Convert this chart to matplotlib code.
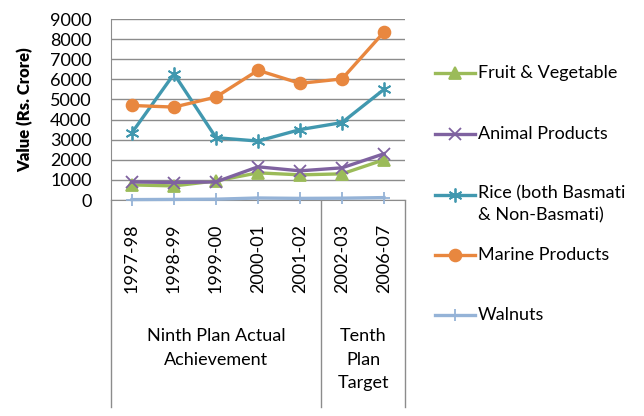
import matplotlib
matplotlib.use("Agg")
import matplotlib.pyplot as plt
from matplotlib.lines import Line2D
import matplotlib.transforms as mtransforms

plt.rcParams['font.family'] = ['Lato', 'DejaVu Sans']

categories = ["1997-98", "1998-99", "1999-00", "2000-01", "2001-02", "2002-03", "2006-07"]
groups = ["Ninth Plan Actual\nAchievement", "Tenth\nPlan\nTarget"]
group_sizes = [5, 2]

fruit = [750, 700, 950, 1350, 1250, 1300, 2000]
animal = [900, 870, 900, 1650, 1450, 1600, 2300]
rice = [3350, 6270, 3100, 2930, 3500, 3850, 5500]
marine = [4700, 4620, 5120, 6450, 5800, 6020, 8350]
walnuts = [20, 30, 40, 100, 80, 90, 120]

series_names = ["Fruit & Vegetable", "Animal Products",
                "Rice (both Basmati\n& Non-Basmati)", "Marine Products", "Walnuts"]
yticks = [0, 1000, 2000, 3000, 4000, 5000, 6000, 7000, 8000, 9000]

W, H = 644, 416
FS = 13
fig = plt.figure(figsize=(W / 100, H / 100), dpi=100)
ax = fig.add_axes([111 / W, 1 - 200 / H, 294 / W, 181 / H])

x = list(range(len(categories)))
styles = [
    (walnuts, "#95B3D7", "+", 9, None),
    (fruit, "#9BBB59", "^", 8, "#9BBB59"),
    (animal, "#7F62A0", "x", 8, None),
    (rice, "#4198AF", (6, 2, 0), 10, None),
    (marine, "#E8873F", "o", 8.5, "#E8873F"),
]
for vals, col, mk, ms, mfc in styles:
    ax.plot(x, vals, color=col, lw=2.4, marker=mk, markersize=ms,
            markeredgewidth=1.3, markerfacecolor=mfc if mfc else col,
            markeredgecolor=col, clip_on=False, zorder=3)

ax.set_xlim(-0.5, len(categories) - 0.5)
ax.set_ylim(0, 9000)
ax.set_yticks(yticks)
ax.set_yticklabels([str(v) for v in yticks], fontsize=FS)
ax.yaxis.grid(True, color="#8C8C8C", lw=1)
ax.set_axisbelow(True)
ax.tick_params(axis='y', length=0, pad=14)
for s in ["top", "right"]:
    ax.spines[s].set_visible(False)
ax.spines["left"].set_color("#8C8C8C")
ax.spines["bottom"].set_color("#8C8C8C")
ax.set_xticks(x)
ax.set_xticklabels(categories, rotation=90, fontsize=FS, va="top")
ax.tick_params(axis='x', length=0, pad=17)
ax.set_ylabel("Value (Rs. Crore)", fontsize=12, fontweight="heavy", labelpad=12)

# group dividers and labels
trans = mtransforms.blended_transform_factory(ax.transData, ax.transAxes)
bottom = -(407 - 200) / 181
bounds = [-0.5]
for g in group_sizes:
    bounds.append(bounds[-1] + g)
for b in bounds:
    ax.plot([b, b], [0, bottom], transform=trans, color="#8C8C8C", lw=1,
            clip_on=False)
for i, g in enumerate(groups):
    cx = (bounds[i] + bounds[i + 1]) / 2
    ax.text(cx, -(328 - 200) / 181, g, transform=trans, ha="center", va="top",
            fontsize=FS, linespacing=1.58)

# legend (manual placement)
leg_y = [73, 134, 195, 255, 315]
leg_styles = [styles[1], styles[2], styles[3], styles[4], styles[0]]
for name, y, st in zip(series_names, leg_y, leg_styles):
    vals, col, mk, ms, mfc = st
    yf = 1 - y / H
    fig.add_artist(Line2D([435 / W, 475 / W], [yf, yf], color=col, lw=2.4,
                          transform=fig.transFigure))
    fig.add_artist(Line2D([455 / W], [yf], color=col, marker=mk, markersize=ms,
                          markeredgewidth=1.3, markerfacecolor=mfc if mfc else col,
                          markeredgecolor=col, transform=fig.transFigure))
    if "\n" in name:
        fig.text(478 / W, 1 - (y - 10) / H, name, fontsize=FS, va="top",
                 ha="left", linespacing=1.45)
    else:
        fig.text(478 / W, yf, name, fontsize=FS, va="center", ha="left")

fig.savefig("out.png", dpi=100)
